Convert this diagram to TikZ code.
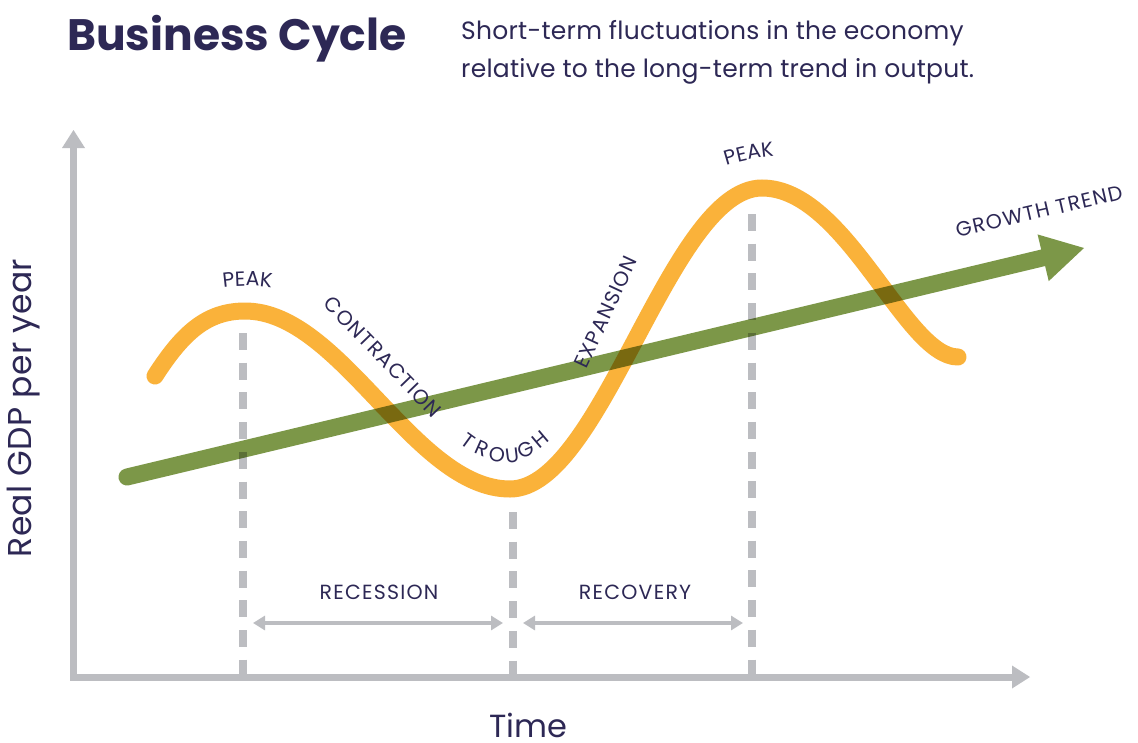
\documentclass[tikz,border=0pt]{standalone}
\usepackage{fontspec}
\setmainfont{Poppins}
\newfontfamily\lblfam[LetterSpace=6]{Poppins}
\newfontfamily\subfam[LetterSpace=1]{Poppins}
\usetikzlibrary{arrows.meta,calc,decorations.text}
\definecolor{ink}{RGB}{45,40,85}
\definecolor{cyc}{RGB}{250,178,58}
\definecolor{trend}{RGB}{124,151,72}
\definecolor{axisgray}{RGB}{188,189,193}
\newcommand\lblfont{\lblfam\fontsize{20.5}{24}\selectfont\color{ink}}
\newcommand\letterfont{\fontsize{20.5}{24}\selectfont\color{ink}}
\begin{document}
\begin{tikzpicture}[x=1pt,y=-1pt,
  axisline/.style={draw=axisgray,line width=7pt},
  axishead/.style={fill=axisgray,draw=none},
  guide/.style={draw=axisgray,line width=8pt,dash pattern=on 17pt off 12.7pt},
  span/.style={draw=axisgray,line width=3.5pt,{Triangle[width=14pt,length=12pt]}-{Triangle[width=14pt,length=12pt]}},
  cycle/.style={draw=cyc,line width=17pt,line cap=round},
  trendline/.style={draw=trend,line width=17pt,line cap=round,blend mode=multiply},
  lbl/.style={text=ink,font=\lblfont,inner sep=0pt},
  letter/.style={text=ink,font=\letterfont,inner sep=0pt,anchor=center},
  pathtext/.style={decorate,decoration={text along path,text={|\lblfont|#1},text align=center}}
]
\useasboundingbox (0,0) rectangle (1138,742);
\fill[white] (0,0) rectangle (1138,742);

% titles
\node[anchor=base west,text=ink,inner sep=0pt] (title) at (67,50)
  {\fontsize{44}{44}\selectfont\bfseries Business Cycle};
\node[anchor=base west,text=ink,inner sep=0pt] (sub1) at (461,39)
  {\subfam\fontsize{25}{25}\selectfont Short-term fluctuations in the economy};
\node[anchor=base west,text=ink,inner sep=0pt] (sub2) at (461,77)
  {\subfam\fontsize{25}{25}\selectfont relative to the long-term trend in output.};

% axes
\coordinate (O) at (73.5,677);
\coordinate (Ytop) at (73.5,148);
\coordinate (Ytip) at (73.5,130);
\coordinate (Xend) at (1012,677);
\coordinate (Xtip) at (1030,677);
\draw[axisline] ($(O)+(0,3.5)$) -- (Ytop);
\fill[axishead] (Ytip) -- ($(Ytop)+(-11.5,0)$) -- ($(Ytop)+(11.5,0)$) -- cycle;
\draw[axisline] ($(O)+(-3.5,0)$) -- (Xend);
\fill[axishead] (Xtip) -- ($(Xend)+(0,-11.5)$) -- ($(Xend)+(0,11.5)$) -- cycle;

\node[text=ink,rotate=90,inner sep=0pt] (ylab) at (24,408)
  {\subfam\fontsize{33}{33}\selectfont Real GDP per year};
\node[text=ink,inner sep=0pt,anchor=base,text depth=0pt] (xlab) at (528,737)
  {\fontsize{32}{32}\selectfont Time};

% guides
\coordinate (g1) at (243,333);
\coordinate (g2) at (513,512);
\coordinate (g3) at (752,214);
\draw[guide] (g1) -- (g1 |- O);
\draw[guide] (g2) -- (g2 |- O);
\draw[guide] (g3) -- (g3 |- O);

% spans
\coordinate (r1) at (253,623);
\coordinate (r2) at (503,623);
\coordinate (v1) at (523,623);
\coordinate (v2) at (743,623);
\draw[span] (r1) -- (r2);
\draw[span] (v1) -- (v2);
\node[lbl] (rec) at (379,592) {RECESSION};
\node[lbl] (recov) at (635,592) {RECOVERY};

% business cycle curve
\coordinate (c0) at (155,376);
\coordinate (p1) at (245,311);
\coordinate (tr) at (510,489);
\coordinate (p2) at (762,188);
\coordinate (c4) at (958,357);
\draw[cycle] (c0) .. controls (182,334) and (206,311) .. (p1)
  .. controls (341,311) and (414,489) .. (tr)
  .. controls (602,489) and (670,188) .. (p2)
  .. controls (846,188) and (905,357) .. (c4);

% growth trend
\coordinate (S) at (127,477);
\coordinate (T) at (1084,248);
\coordinate (B) at ($(T)!42pt!(S)$);
\draw[trendline] (S) -- (B);
\fill[trend] (T) -- ($(B)!24pt!90:(T)$) -- ($(B)!24pt!-90:(T)$) -- cycle;

% labels
\path[pathtext=PEAK] (198,295) .. controls (223,283) and (271,283) .. (297,295);
\path[pathtext=PEAK] (701,177) .. controls (726,161) and (773,153) .. (802,156);
\node[letter,rotate=-36] (tr1) at (468,441) {T};
\node[letter,rotate=-24] (tr2) at (482,449) {R};
\node[letter,rotate=-9]  (tr3) at (497,455) {O};
\node[letter,rotate=7]   (tr4) at (512,456) {U};
\node[letter,rotate=24]  (tr5) at (526,450) {G};
\node[letter,rotate=40]  (tr6) at (540,439) {H};
\node[lbl,rotate=-46] (contr) at (383,357) {CONTRACTION};
\node[lbl,rotate=65] (expa) at (606,312) {EXPANSION};
\node[lbl,rotate=13] (gt) at (1039,211) {GROWTH TREND};
\end{tikzpicture}
\end{document}
